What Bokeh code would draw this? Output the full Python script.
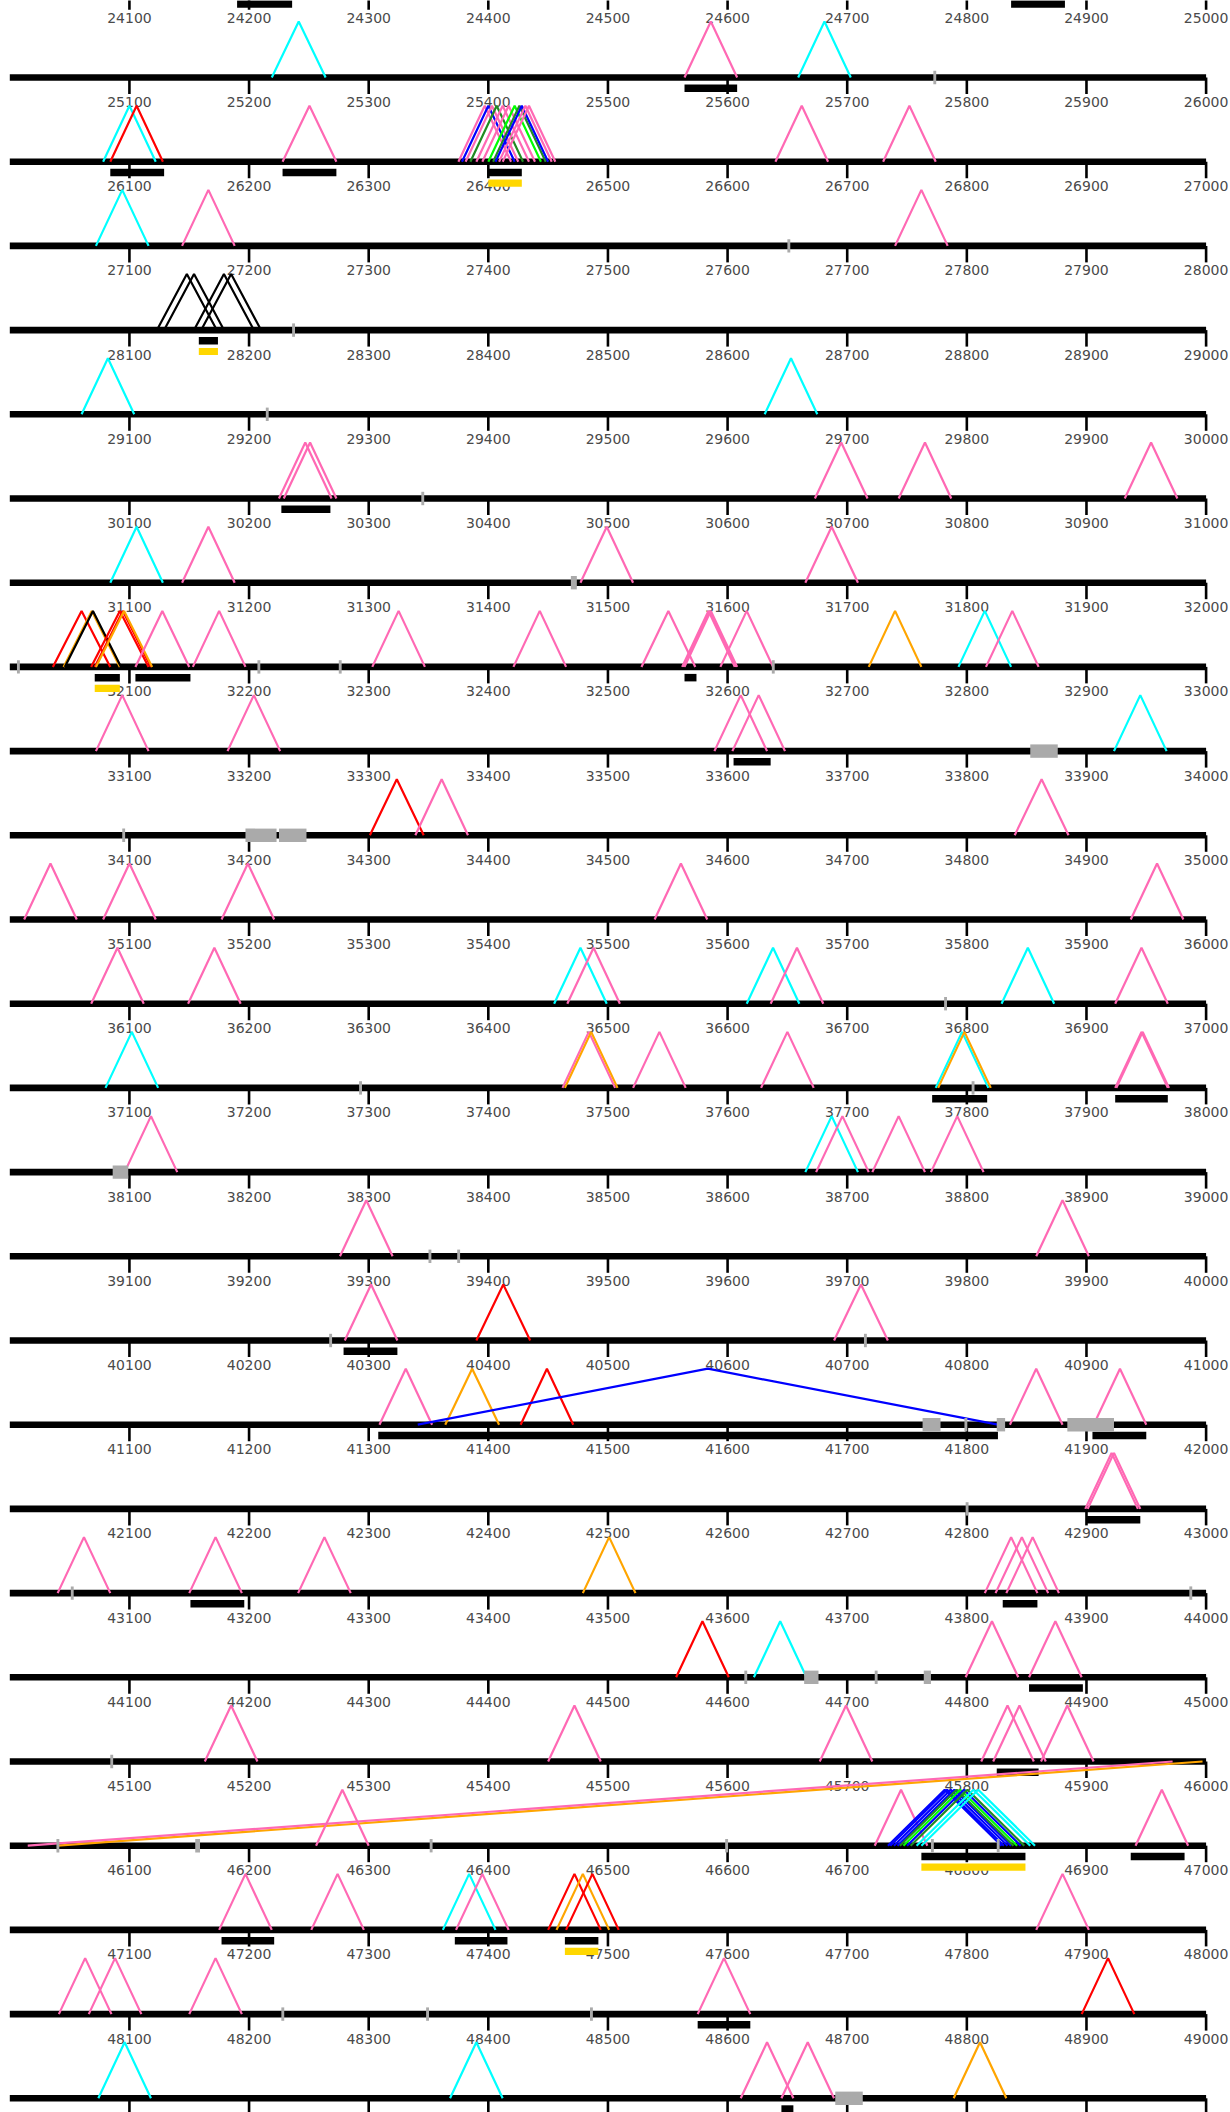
from bokeh.plotting import figure
from bokeh.models import Range1d, ColumnDataSource
from bokeh.embed import file_html
from bokeh.resources import INLINE
from bokeh.core.properties import value

# ---------------- data ----------------
FIRST_ROW = 24000
N_ROWS = 26
ROW_LEN = 1000
tick_steps = [100, 200, 300, 400, 500, 600, 700, 800, 900, 1000]

P = "#ff69b4"; C = "#00ffff"; R = "#ff0000"; O = "#ffa500"
B = "#0000ff"; G = "#00ff00"; DG = "#228b22"; K = "#000000"

tri_start = [
    25219, 25564, 25659,
    26078, 26084, 26228, 26375, 26378, 26381, 26385, 26390, 26395, 26400, 26404, 26406, 26409, 26412, 26640, 26730,
    27072, 27144, 27740,
    28123, 28129, 28154, 28160,
    29060, 29631,
    30225, 30229, 30673, 30743, 30932,
    31084, 31144, 31477, 31665,
    32036, 32045, 32046, 32068, 32071, 32072, 32105, 32153, 32303, 32421, 32528, 32562, 32563, 32564, 32594, 32718, 32793, 32816,
    33072, 33182, 33589, 33604, 33923,
    34301, 34339, 34840,
    35012, 35078, 35177, 35539, 35937,
    36068, 36149, 36455, 36466, 36616, 36636, 36829, 36924,
    37080, 37462, 37464, 37521, 37628, 37774, 37776, 37924, 37925,
    38096, 38665, 38674, 38721, 38770,
    39276, 39858,
    40280, 40390, 40689,
    41309, 41364, 41427, 41341, 41836, 41906,
    42899, 42901,
    43040, 43150, 43241, 43479, 43815, 43824, 43833,
    44557, 44622, 44799, 44852,
    45163, 45450, 45677, 45812, 45822, 45862, 45997, 45972,
    46256, 46723, 46734, 46736, 46739, 46742, 46744, 46747, 46750, 46753, 46758, 46762, 46941,
    47175, 47252, 47362, 47373, 47450, 47457, 47465, 47858,
    48041, 48066, 48150, 48575, 48896,
    49074, 49368, 49611, 49645, 49789,
]
tri_end = [
    25264, 25608, 25703,
    26122, 26128, 26273, 26419, 26422, 26425, 26429, 26434, 26439, 26444, 26448, 26450, 26453, 26456, 26684, 26774,
    27116, 27188, 27784,
    28173, 28179, 28204, 28210,
    29104, 29675,
    30269, 30273, 30717, 30787, 30976,
    31128, 31188, 31521, 31709,
    32084, 32092, 32093, 32116, 32118, 32119, 32150, 32197, 32347, 32465, 32573, 32606, 32607, 32608, 32638, 32762, 32837, 32860,
    33116, 33226, 33633, 33648, 33967,
    34346, 34383, 34885,
    35056, 35122, 35221, 35583, 35981,
    36112, 36193, 36499, 36510, 36660, 36680, 36873, 36968,
    37124, 37506, 37508, 37565, 37672, 37818, 37820, 37968, 37969,
    38140, 38709, 38718, 38765, 38814,
    39320, 39902,
    40324, 40435, 40734,
    41353, 41409, 41471, 41826, 41880, 41950,
    42943, 42945,
    43084, 43194, 43285, 43523, 43859, 43868, 43877,
    44601, 44666, 44843, 44896,
    45207, 45494, 45721, 45856, 45866, 45906, 46040, 46015,
    46300, 46767, 46829, 46831, 46834, 46837, 46839, 46842, 46845, 46848, 46853, 46857, 46985,
    47219, 47296, 47406, 47417, 47494, 47501, 47509, 47902,
    48085, 48110, 48194, 48619, 48940,
    49118, 49412, 49655, 49689, 49833,
]
tri_color = [
    C, P, C,
    C, R, P, P, B, P, DG, P, P, G, DG, B, P, P, P, P,
    C, P, P,
    K, K, K, K,
    C, C,
    P, P, P, P, P,
    C, P, P, P,
    R, O, K, R, R, O, P, P, P, P, P, P, P, P, P, O, C, P,
    P, P, P, P, C,
    R, P, P,
    P, P, P, P, P,
    P, P, C, P, C, P, C, P,
    C, P, O, P, P, C, O, P, P,
    P, C, P, P, P,
    P, P,
    P, R, P,
    P, O, R, B, P, P,
    P, P,
    P, P, P, O, P, P, P,
    R, C, P, P,
    P, P, P, P, P, P, O, P,
    P, P, B, B, B, B, DG, G, B, DG, C, C, P,
    P, P, C, P, R, O, R, P,
    P, P, P, P, R,
    C, C, P, P, O,
]

bar_start = [24190, 24837, 25564, 26084, 26228, 26400, 28158, 30227, 32071, 32105, 32564, 33605,
             37771, 37924, 40279, 41308, 41905, 42900, 43151, 43830, 44852, 45825, 46762, 46937,
             47177, 47372, 47464, 48575, 49645]
bar_end = [24236, 24882, 25608, 26129, 26273, 26428, 28174, 30268, 32092, 32151, 32574, 33636,
           37817, 37968, 40324, 41826, 41950, 42945, 43196, 43859, 44897, 45860, 46849, 46982,
           47221, 47416, 47492, 48619, 49655]

hl_start = [26400, 28158, 32071, 46762, 47464]
hl_end = [26428, 28174, 32092, 46849, 47492]

mark_start = [25772, 27650, 28236, 29214, 30344, 31469, 32006, 32207, 32275, 32637, 33853, 34094,
              34197, 34225, 36781, 37292, 37804, 38086, 39350, 39374, 40267, 40714, 41763, 41798,
              41825, 41884, 42799, 43051, 43986, 44614, 44664, 44723, 44764, 45084, 46039, 46155,
              46351, 46598, 46770, 46825, 48227, 48348, 48485, 49690]
mark_end = [25774.4, 27652.4, 28238.4, 29216.4, 30346.4, 31474, 32008.4, 32209.4, 32277.4, 32639.4, 33876, 34096.4,
            34223, 34248, 36783.4, 37294.4, 37806.4, 38099, 39352.4, 39376.4, 40269.4, 40716.4, 41778, 41800.4,
            41832, 41923, 42801.4, 43053.4, 43988.4, 44616.4, 44676, 44725.4, 44770, 45086.4, 46041.4, 46159,
            46353.4, 46600.4, 46772.4, 46827.4, 48229.4, 48350.4, 48487.4, 49713]

# ---------------- layout ----------------
W, H = 1230, 2112
PX_PER_BP = 1.1963
X_START = -9.3 / PX_PER_BP
X_END = X_START + W / PX_PER_BP
ROW_Y0 = -7.2
ROW_PITCH = 84.2
TRI_H = 56


def row_y(k):
    return ROW_Y0 + ROW_PITCH * k


def locate(pos):
    k = int((pos - FIRST_ROW) // ROW_LEN)
    return k, pos - FIRST_ROW - k * ROW_LEN


p = figure(width=W, height=H, output_backend="svg", toolbar_location=None,
           x_range=Range1d(X_START, X_END), y_range=Range1d(H, 0),
           x_axis_location=None, y_axis_location=None, min_border=0)
p.grid.visible = False
p.outline_line_color = None
p.background_fill_color = "white"
p.border_fill_color = "white"

# baselines
rows = list(range(N_ROWS))
p.quad(left=[0] * N_ROWS, right=[ROW_LEN] * N_ROWS,
       top=[row_y(k) - 3.3 for k in rows], bottom=[row_y(k) + 3.3 for k in rows],
       fill_color="black", line_color=None)

# ticks and labels (labels that would fall below the page are not drawn)
tx0, tx1, ty0, ty1, lx, ly, lt = [], [], [], [], [], [], []
for k in rows:
    for t in tick_steps:
        tx0.append(t); tx1.append(t)
        ty0.append(row_y(k)); ty1.append(row_y(k) + 16.5)
        if row_y(k) + 24.5 + 6 < H:
            lx.append(t); ly.append(row_y(k) + 24.5)
            lt.append(str(FIRST_ROW + k * ROW_LEN + t))
p.segment(x0=tx0, y0=ty0, x1=tx1, y1=ty1, line_color="black", line_width=2.6)
p.text(x=lx, y=ly, text=lt, text_align="center", text_baseline="middle",
       text_font=value("DejaVu Sans"), text_font_size="14px", text_color="#4a4a4a")

# black / yellow bars under the baseline
def bar_src(starts, ends, d0, d1):
    L, Rr, T, Bo = [], [], [], []
    for s, e in zip(starts, ends):
        k, off = locate(s)
        L.append(off); Rr.append(off + (e - s))
        T.append(row_y(k) + d0); Bo.append(row_y(k) + d1)
    return dict(left=L, right=Rr, top=T, bottom=Bo)

p.quad(source=ColumnDataSource(bar_src(bar_start, bar_end, 7.0, 14.5)), fill_color="black", line_color=None)
p.quad(source=ColumnDataSource(bar_src(hl_start, hl_end, 17.8, 25.0)), fill_color="#ffd700", line_color=None)

# triangles
xs, ys, cols = [], [], []
for s, e, c in zip(tri_start, tri_end, tri_color):
    ks, so = locate(s)
    ke, eo = locate(e)
    if ks == ke:
        m = (so + eo) / 2
        xs.append([so, m, eo])
        ys.append([row_y(ks), row_y(ks) - TRI_H, row_y(ks)])
    else:
        xs.append([so, eo])
        ys.append([row_y(ks), row_y(ke)])
    cols.append(c)
p.multi_line(xs=xs, ys=ys, line_color=cols, line_width=2.2)

# gray marks on the baseline
p.quad(source=ColumnDataSource(bar_src(mark_start, mark_end, -6.7, 6.7)), fill_color="#aaaaaa", line_color=None)

open("out.html", "w").write(file_html(p, INLINE))
